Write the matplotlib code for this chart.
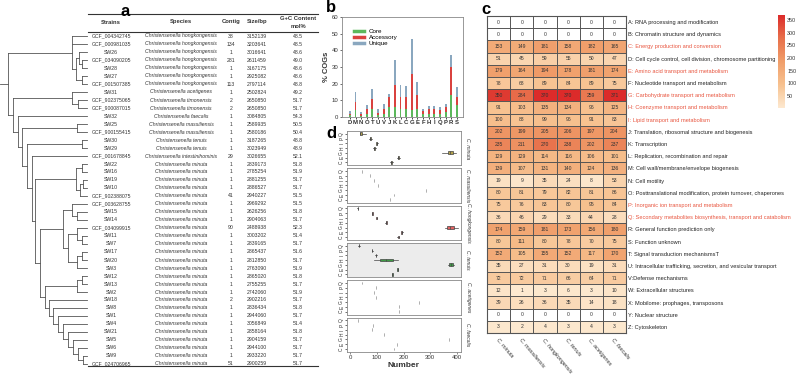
import numpy as np
import matplotlib
matplotlib.use("Agg")
import matplotlib.pyplot as plt
import matplotlib.colors
from matplotlib.lines import Line2D

plt.rcParams['font.family'] = ['Liberation Sans', 'DejaVu Sans']

'''
-------------------- data --------------------
'''

strains = ["GCF_004342745", "GCF_000981035", "SW26", "GCF_034090205", "SW28", "SW27", "GCF_001507385",
           "SW31", "GCF_902375065", "GCF_900087015", "SW32", "SW25", "GCF_900155415", "SW30", "SW29",
           "GCF_001678845", "SW22", "SW16", "SW19", "SW10", "GCF_902388075", "GCF_003628755", "SW15",
           "SW14", "GCF_034099915", "SW11", "SW7", "SW17", "SW20", "SW3", "SW12", "SW13", "SW2", "SW18",
           "SW8", "SW1", "SW4", "SW21", "SW5", "SW6", "SW9", "GCF_024706965"]
species = (["Christensenella hongkongensis"] * 7 + ["Christensenella acetigenes"]
           + ["Christensenella timonensis"] * 2 + ["Christensenella faecalis"]
           + ["Christensenella massiliensis"] * 2 + ["Christensenella tenuis"] * 2
           + ["Christensenella intestinihominis"] + ["Christensenella minuta"] * 26)
contigs = [38, 134, 1, 281, 1, 1, 113, 1, 2, 2, 1, 1, 1, 1, 1, 29, 1, 1, 1, 1, 41, 1, 1, 1, 90, 1, 1, 1,
           1, 1, 1, 1, 1, 2, 1, 1, 1, 1, 1, 1, 1, 51]
sizes = [3152139, 3203641, 3016641, 2611459, 3167175, 2925082, 2797114, 2502824, 2650850, 2650850,
         3084805, 2589935, 2580186, 3187265, 3023949, 3026655, 2839173, 2785254, 2881255, 2886527,
         2940227, 2969292, 2626256, 2904063, 2488938, 3003202, 2839165, 2865437, 2812850, 2763090,
         2865020, 2755255, 2742060, 2902216, 2836434, 2944060, 3056849, 2858164, 2904159, 2944100,
         2933220, 2900259]
gc = [48.5, 48.5, 48.6, 49.0, 48.6, 48.6, 48.8, 49.2, 51.7, 51.7, 54.3, 50.5, 50.4, 48.8, 48.9, 52.1,
      51.8, 51.9, 51.7, 51.7, 51.5, 51.5, 51.8, 51.7, 52.3, 51.4, 51.7, 51.6, 51.7, 51.9, 51.8, 51.7,
      51.9, 51.7, 51.8, 51.7, 51.4, 51.8, 51.7, 51.7, 51.7, 51.7]

# tree: [node depth, children...], leaves are row indices
tree = [8,
        [72, 0, 1, [76, [79, 2, [82, 3, 4]], [82, 5, 6]]],
        [13,
         [72, 7, [78, 8, 9]],
         [18, 10,
          [22, [77, 11, 12],
           [27, [82, 13, 14],
            [32, 15,
             [35,
              [76, [82, 16, 17], [80, [83, 18, 19], 20]],
              [40,
               [63, [72, 21, [77, 22, 23]],
                [68, [77, 24, [82, 25, 26]], [77, [82, 27, 28], 29]]],
               [45, [77, [82, 30, 31], 32],
                [49, 33, [53, 34, [58, 35, [63, 36, [68, 37, [73, 38, [78, 39, [83, 40, 41]]]]]]]]]]]]]]]]]

cog_cats = ["D", "M", "N", "O", "T", "U", "V", "J", "K", "L", "C", "G", "E", "F", "H", "I", "Q", "P", "R", "S"]
core = [1, 4, 0.5, 2, 5, 1, 2, 6, 6, 5, 5, 4, 5, 1.5, 2, 2, 2, 3, 13, 7]
accessory = [1, 5, 1.5, 2.5, 6, 1.5, 3, 6, 13, 7, 7, 22, 8, 2, 2.5, 2.5, 2, 3, 17, 5]
unique = [1.5, 6, 1, 2.5, 5.5, 2, 3, 1.5, 15, 7, 6.5, 21, 8, 1.5, 2, 2, 2, 2, 7, 6]

heat_species = ["C. minuta", "C. massiliensis", "C. hongkongensis", "C. tenuis", "C. acetigenes", "C. faecalis"]
cog_labels = ["A: RNA processing and modification",
              "B: Chromatin structure and dynamics",
              "C: Energy production and conversion",
              "D: Cell cycle control, cell division, chromosome partitioning",
              "E: Amino acid transport and metabolism",
              "F: Nucleotide transport and metabolism",
              "G: Carbohydrate transport and metabolism",
              "H: Coenzyme transport and metabolism",
              "I: Lipid transport and metabolism",
              "J: Translation, ribosomal structure and biogenesis",
              "K: Transcription",
              "L: Replication, recombination and repair",
              "M: Cell wall/membrane/envelope biogenesis",
              "N: Cell motility",
              "O: Posttranslational modification, protein turnover, chaperones",
              "P: Inorganic ion transport and metabolism",
              "Q: Secondary metabolites biosynthesis, transport and catabolism",
              "R: General function prediction only",
              "S: Function unknown",
              "T: Signal transduction mechanismsT",
              "U: Intracellular trafficking, secretion, and vesicular transport",
              "V:Defense mechanisms",
              "W: Extracellular structures",
              "X: Mobilome: prophages, transposons",
              "Y: Nuclear structure",
              "Z: Cytoskeleton"]
red_cogs = ["C", "E", "G", "H", "I", "P", "Q"]
heat_values = np.array([
    [0, 0, 0, 0, 0, 0],
    [0, 0, 0, 0, 0, 0],
    [153, 149, 181, 158, 182, 165],
    [51, 45, 59, 55, 50, 47],
    [179, 164, 194, 178, 181, 174],
    [78, 68, 89, 84, 89, 75],
    [350, 284, 370, 370, 259, 371],
    [91, 103, 135, 134, 96, 125],
    [100, 88, 99, 96, 91, 83],
    [202, 199, 205, 206, 197, 204],
    [235, 211, 270, 238, 202, 237],
    [129, 129, 114, 116, 106, 101],
    [139, 107, 131, 140, 124, 136],
    [19, 9, 35, 24, 8, 53],
    [80, 81, 79, 82, 81, 86],
    [75, 76, 83, 80, 95, 84],
    [36, 46, 29, 33, 44, 28],
    [174, 159, 181, 173, 156, 180],
    [80, 111, 80, 78, 70, 75],
    [152, 105, 155, 152, 117, 170],
    [35, 27, 31, 30, 19, 31],
    [72, 72, 71, 66, 64, 71],
    [12, 1, 3, 6, 3, 10],
    [39, 26, 36, 35, 14, 18],
    [0, 0, 0, 0, 0, 0],
    [3, 2, 4, 3, 4, 3]])

# panel d: per-strain counts for the highlighted COGs (C E G H I P Q)
d_cats = ["C", "E", "G", "H", "I", "P", "Q"]
minuta_d = [[148, 151, 153, 154, 156, 159], [175, 177, 179, 180, 182, 185], [344, 362, 368, 375, 382, 390, 398],
            [87, 89, 91, 92, 95], [96, 98, 100, 101, 103], [72, 74, 75, 77, 80], [35, 36, 37, 38, 48, 58]]
massiliensis_d = [[149, 149], [164, 164], [284, 284], [103, 103], [88, 88], [76, 76], [46, 46]]
hongkongensis_d = [[176, 179, 181, 182, 184], [190, 192, 194, 195, 197], [356, 362, 370, 380, 392, 405],
                   [131, 133, 135, 136, 138], [97, 98, 99, 100, 101], [81, 82, 83, 84, 85], [27, 28, 29, 30, 31]]
tenuis_d = [[155, 157, 160], [176, 178, 180], [365, 370, 378, 385, 390], [90, 110, 134, 160, 178],
            [94, 96, 99], [80, 82, 84], [31, 33, 35]]
acetigenes_d = [[182], [181], [259], [96], [91], [95], [44]]
faecalis_d = [[165], [174], [371], [125], [83], [84], [28]]

'''
-------------------- plotting --------------------
'''

W, H = 800.0, 374.0
def box(x0, y0, x1, y1):
    # pixel box -> figure coords
    return [x0 / W, 1 - y1 / H, (x1 - x0) / W, (y1 - y0) / H]

fig = plt.figure(figsize=(8, 3.74), dpi=100)
txt_col = "#333333"
line_col = "#555555"

# ---- panel a ----
ax = fig.add_axes(box(0, 0, 320, 374))
ax.set_xlim(0, 320)
ax.set_ylim(42.25, -4.5)
ax.axis("off")

leaf_x = 87
def draw(node, parent_x):
    if isinstance(node, int):
        ax.plot([parent_x, leaf_x], [node, node], color=line_col, lw=0.6)
        return node
    depth = node[0]
    ys = [draw(c, depth) for c in node[1:]]
    y = (ys[0] + ys[-1]) / 2.0
    ax.plot([depth, depth], [ys[0], ys[-1]], color=line_col, lw=0.6)
    ax.plot([parent_x, depth], [y, y], color=line_col, lw=0.6)
    return y

draw(tree, 0)

fs = 3.7
col_x = [111, 181, 231, 257, 298]
for i in range(len(strains)):
    ax.text(col_x[0], i, strains[i], fontsize=fs, ha="center", va="center", color=txt_col)
    ax.text(col_x[1], i, species[i], fontsize=fs, ha="center", va="center", color=txt_col, style="italic")
    ax.text(col_x[2], i, str(contigs[i]), fontsize=fs, ha="center", va="center", color=txt_col)
    ax.text(col_x[3], i, str(sizes[i]), fontsize=fs, ha="center", va="center", color=txt_col)
    ax.text(col_x[4], i, "%.1f" % gc[i], fontsize=fs, ha="center", va="center", color=txt_col)
for xx, lab in zip(col_x[:4], ["Strains", "Species", "Contig", "Size/bp"]):
    ax.text(xx, -1.75, lab, fontsize=4.2, ha="center", va="center", weight="bold", color=txt_col)
ax.text(col_x[4], -2.25, "G+C Content", fontsize=4.2, ha="center", va="center", weight="bold", color=txt_col)
ax.text(col_x[4], -1.25, "mol%", fontsize=4.2, ha="center", va="center", weight="bold", color=txt_col)
for yy in [-2.75, -0.5, 41.25]:
    ax.plot([88, 318], [yy, yy], color="#333333", lw=0.8)

# ---- panel b ----
axb = fig.add_axes(box(342, 17, 463, 117))
xs = np.arange(len(cog_cats))
c_core, c_acc, c_uni = "#5cb85c", "#d9423f", "#8aa7bf"
core = np.array(core); accessory = np.array(accessory); unique = np.array(unique)
axb.bar(xs, core, width=0.34, color=c_core)
axb.bar(xs, accessory, width=0.34, bottom=core, color=c_acc)
axb.bar(xs, unique, width=0.34, bottom=core + accessory, color=c_uni)
axb.set_xlim(-1.4, 20.1)
axb.set_ylim(0, 60)
axb.set_yticks(range(0, 61, 10))
axb.set_xticks(xs)
axb.set_xticklabels(cog_cats, fontsize=4.3, weight="bold", color=txt_col)
axb.tick_params(axis="y", labelsize=4.3, length=1.5, width=0.5, pad=1, colors=txt_col)
axb.tick_params(axis="x", length=1.5, width=0.5, pad=1)
axb.set_ylabel("% COGs", fontsize=5.5, weight="bold", labelpad=1, color=txt_col)
for s in axb.spines.values():
    s.set_color("#888888"); s.set_linewidth(0.6)
handles = [Line2D([], [], color=c, lw=2.5) for c in [c_core, c_acc, c_uni]]
axb.legend(handles, ["Core", "Accessory", "Unique"], loc="upper left", fontsize=4.5, frameon=False,
           handlelength=1.6, borderaxespad=0.3, labelspacing=0.1, bbox_to_anchor=(0.06, 0.93))

# ---- panel c ----
axc = fig.add_axes(box(487, 16, 626, 333))
CMAP = matplotlib.colors.LinearSegmentedColormap.from_list("", ["#fde9d0", "#f7c18f", "#f09e6a", "#e8704b", "#dc2b2a"])
CMAP.set_under("white")
im = axc.imshow(heat_values, aspect="auto", cmap=CMAP, vmin=1, vmax=371, interpolation="nearest")
for i in range(heat_values.shape[0]):
    for j in range(heat_values.shape[1]):
        axc.text(j, i, str(heat_values[i, j]), fontsize=3.6, ha="center", va="center", color=txt_col)
axc.set_xticks(np.arange(-0.5, 6, 1), minor=True)
axc.set_yticks(np.arange(-0.5, 26, 1), minor=True)
axc.grid(which="minor", color="#555555", lw=0.7)
axc.tick_params(which="both", length=0)
axc.set_xticks(range(6))
axc.set_xticklabels(heat_species, rotation=-50, ha="left", va="top", rotation_mode="anchor",
                    fontsize=4, style="italic", color=txt_col)
axc.set_yticks(range(26))
axc.set_yticklabels(cog_labels, fontsize=4.1)
axc.yaxis.tick_right()
axc.tick_params(axis="y", pad=1.5)
for lab in axc.get_yticklabels():
    lab.set_color("#e8553f" if lab.get_text()[0] in red_cogs else "#222222")
for s in axc.spines.values():
    s.set_color("#555555"); s.set_linewidth(0.8)

cax = fig.add_axes(box(778, 15, 785, 108))
cb = fig.colorbar(im, cax=cax, ticks=[50, 100, 150, 200, 250, 300, 350])
cb.outline.set_visible(False)
cax.tick_params(labelsize=3.9, length=0, pad=1.5, colors=txt_col)

# ---- panel d ----
d_data = [minuta_d, massiliensis_d, hongkongensis_d, tenuis_d, acetigenes_d, faecalis_d]
d_fill = ["#b3a24a", "#bbbbbb", "#e06262", "#3f9a45", "#bbbbbb", "#bbbbbb"]
d_edge = ["#444444", "#aaaaaa", "#444444", "#444444", "#aaaaaa", "#aaaaaa"]
d_bg = ["white", "white", "white", "#ececec", "white", "white"]
top0, hh, gap = 131, 34.3, 3
for k in range(6):
    t = top0 + k * (hh + gap)
    axd = fig.add_axes(box(347, t, 461, t + hh))
    axd.set_facecolor(d_bg[k])
    bp = axd.boxplot(d_data[k], positions=np.arange(1, 8), vert=False, widths=0.6, patch_artist=True,
                     flierprops=dict(marker="+", markersize=1.5, markeredgewidth=0.4, markeredgecolor=d_edge[k]),
                     boxprops=dict(linewidth=0.5, edgecolor=d_edge[k], facecolor=d_fill[k]),
                     whiskerprops=dict(linewidth=0.5, color=d_edge[k]),
                     capprops=dict(linewidth=0), medianprops=dict(linewidth=0.5, color=d_edge[k]))
    axd.set_xlim(-12, 415)
    axd.set_ylim(0.4, 7.6)
    axd.set_yticks(np.arange(1, 8))
    axd.set_yticklabels(d_cats, fontsize=3.5, rotation=90, va="center", color=txt_col)
    axd.tick_params(axis="y", length=1.2, width=0.4, pad=0.8)
    axd.set_xticks([0, 100, 200, 300, 400])
    if k < 5:
        axd.tick_params(axis="x", length=0, labelbottom=False)
    else:
        axd.tick_params(axis="x", length=1.5, width=0.4, labelsize=4.3, pad=1, colors=txt_col)
        axd.set_xlabel("Number", fontsize=6, weight="bold", labelpad=1, color=txt_col)
    for s in axd.spines.values():
        s.set_color("#888888"); s.set_linewidth(0.6)
    fig.text(468 / W, 1 - (t + hh / 2) / H, heat_species[k], rotation=-90, fontsize=3.6, style="italic",
             ha="center", va="center", color=txt_col)

for lab, x, y in [("a", 125, 12), ("b", 331, 8), ("c", 486, 9), ("d", 331, 134)]:
    fig.text(x / W, 1 - y / H, lab, fontsize=12, weight="bold", ha="center", va="center")

fig.savefig("out.png", dpi=100)
